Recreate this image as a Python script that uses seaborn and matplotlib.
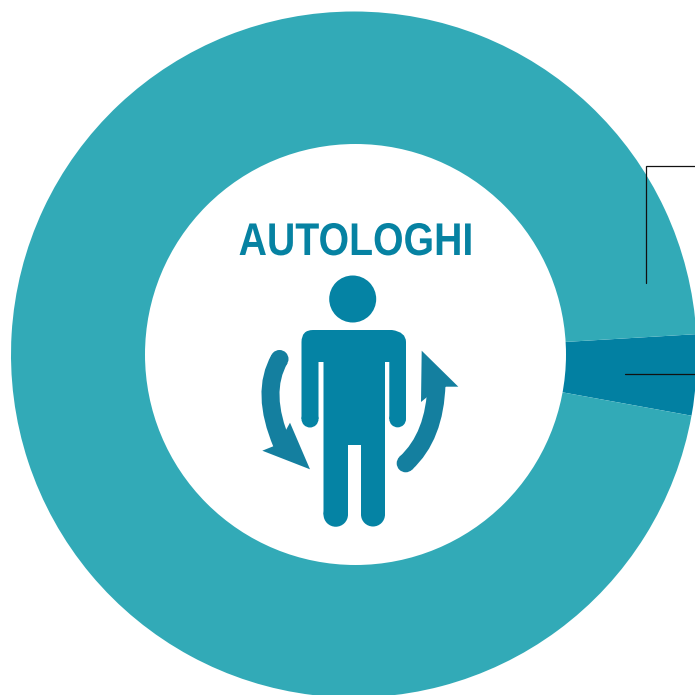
import matplotlib
matplotlib.use("Agg")
import matplotlib.pyplot as plt
import matplotlib.patheffects as pe
import seaborn as sns
from matplotlib.patches import Circle, PathPatch, Polygon
from matplotlib.path import Path
from matplotlib.transforms import Affine2D

# Data
labels = ["Altri", "Autologhi"]
shares = [3.8, 96.2]
title = "AUTOLOGHI"

ring_color = "#32aab7"
dark_color = "#0280a2"
person_color = "#0583a4"
arrow_color = "#147f9f"


# no condensed font installed, so squeeze the title sideways when it is drawn
class Squeeze(pe.AbstractPathEffect):
    def __init__(self, x_mid, factor):
        super().__init__()
        self.x_mid = x_mid
        self.factor = factor

    def draw_path(self, renderer, gc, tpath, affine, rgbFace=None):
        squeeze = Affine2D().translate(-self.x_mid, 0).scale(self.factor, 1).translate(self.x_mid, 0)
        renderer.draw_path(gc, tpath, affine + squeeze, rgbFace)


sns.set_theme(style="white")
plt.rcParams["font.family"] = ["Liberation Sans", "DejaVu Sans"]

fig = plt.figure(figsize=(6.95, 6.95), dpi=100)
ax = fig.add_axes([0, 0, 1, 1])

# y axis is flipped below so the slice angles are mirrored too
ax.pie(shares, colors=[dark_color, ring_color], center=(354, 354.5), radius=343,
       startangle=-3.4, wedgeprops={"linewidth": 0})
ax.add_patch(Circle((355.5, 354.5), 210.5, color="white", lw=0, zorder=3))

ax.set_xlim(0, 695)
ax.set_ylim(695, 0)
ax.set_aspect("equal")
ax.axis("off")

# callout lines
ax.plot([695, 646, 646], [165.6, 165.6, 283], color="#111111", lw=0.9, zorder=4, solid_joinstyle="miter")
ax.plot([624.5, 695], [373.8, 373.8], color="#111111", lw=0.9, zorder=4)

ax.text(356, 255, title, color="#0682a2", fontsize=33, fontweight="bold",
        ha="center", va="baseline", zorder=5,
        path_effects=[Squeeze(356, 0.856)])

# person icon
ax.add_patch(Circle((352.7, 299), 23.5, color=person_color, lw=0, zorder=5))
L, C3 = Path.LINETO, Path.CURVE3
body = [
    (Path.MOVETO, (313, 330)), (L, (392, 330)), (C3, (406, 332)), (C3, (406, 342)),
    (L, (406, 419)), (L, (389.3, 419)),
    (L, (389.3, 362)), (L, (385, 362)), (L, (385, 514.5)), (L, (361, 514.5)),
    (L, (361, 445)), (L, (348, 445)), (L, (348, 514.5)), (L, (323.5, 514.5)),
    (L, (323.5, 362)), (L, (318.5, 362)), (L, (318.5, 419)), (L, (301.5, 419)),
    (L, (301.5, 342)), (C3, (301.5, 330)), (C3, (313, 330)),
    (Path.CLOSEPOLY, (313, 330)),
]
ax.add_patch(PathPatch(Path([b[1] for b in body], [b[0] for b in body]),
                       facecolor=person_color, lw=0, zorder=5))
for x, y, r in [(397.65, 419, 8.35), (310, 419, 8.5), (373, 514.5, 12), (335.75, 514.5, 12.25)]:
    ax.add_patch(Circle((x, y), r, color=person_color, lw=0, zorder=5))

# arrows around the person
shaft_w = 18 * 0.72
left_shaft = Path([(279.5, 359), (260.2, 392.5), (282, 444)], [Path.MOVETO, C3, C3])
right_shaft = Path([(405.7, 463.3), (435, 436.4), (436.5, 384)], [Path.MOVETO, C3, C3])
for shaft in [left_shaft, right_shaft]:
    ax.add_patch(PathPatch(shaft, facecolor="none", edgecolor=arrow_color, lw=shaft_w,
                           capstyle="butt", zorder=5))
    ax.add_patch(Circle(shaft.vertices[0], 9, color=arrow_color, lw=0, zorder=5))
ax.add_patch(Polygon([(262.3, 450.7), (310, 469.3), (290, 422.7), (286, 430), (274, 446)],
                     facecolor=arrow_color, lw=0, zorder=5))
ax.add_patch(Polygon([(421.7, 350.7), (458.3, 386.7), (446, 386.7), (428.3, 396), (421, 402)],
                     facecolor=arrow_color, lw=0, zorder=5))

fig.savefig("out.png", dpi=100)
